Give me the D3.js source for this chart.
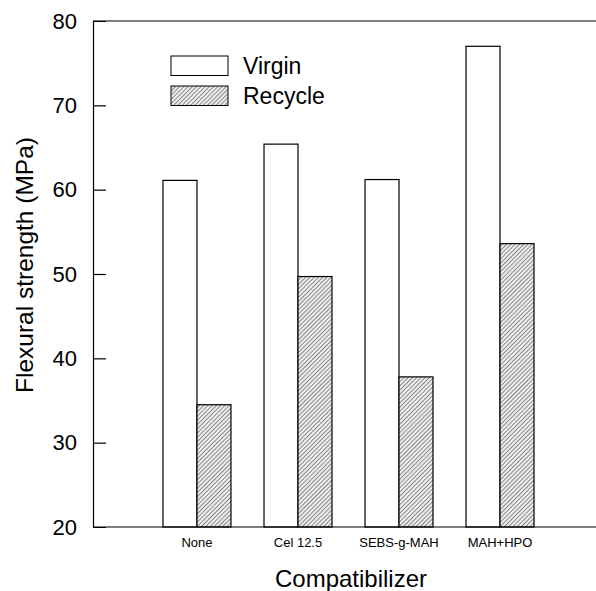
<!DOCTYPE html>
<html>
<head>
<meta charset="utf-8">
<script src="https://cdn.jsdelivr.net/npm/d3@7"></script>
<style>
  body { margin: 0; background: #fff; }
  svg { font-family: "Liberation Sans", Arial, sans-serif; }
</style>
</head>
<body>
<svg id="chart" width="596" height="591"></svg>
<script>
// data
var categories = ["None", "Cel 12.5", "SEBS-g-MAH", "MAH+HPO"];
var series = ["Virgin", "Recycle"];
var virgin = [61.1, 65.4, 61.2, 77.0];
var recycle = [34.5, 49.7, 37.8, 53.6];
var yTicks = [20, 30, 40, 50, 60, 70, 80];

var svg = d3.select("#chart");
var mLeft = 93, mTop = 21, mRight = 596, mBottom = 527;

// hatch for the recycle bars
var defs = svg.append("defs");
var pat = defs.append("pattern")
  .attr("id", "hatch")
  .attr("patternUnits", "userSpaceOnUse")
  .attr("width", 3).attr("height", 3)
  .attr("patternTransform", "rotate(45)");
pat.append("rect").attr("width", 3).attr("height", 3).attr("fill", "#eee");
pat.append("line")
  .attr("x1", 0).attr("y1", 0).attr("x2", 0).attr("y2", 3)
  .attr("stroke", "#444").attr("stroke-width", 1.2);

var y = d3.scaleLinear().domain([20, 80]).range([mBottom, mTop]);
var x = d3.scaleBand().domain(categories).range([94, 603])
  .paddingInner(0.327).paddingOuter(0.683);
var xs = d3.scaleBand().domain(series).range([0, x.bandwidth()]);

var data = categories.map((c, i) => ({cat: c, vals: [virgin[i], recycle[i]]}));

var g = svg.append("g");
g.selectAll(".grp")
  .data(data)
  .enter()
  .append("g")
  .attr("transform", d => "translate(" + x(d.cat) + ",0)")
  .selectAll("rect")
  .data(d => d.vals.map((v, j) => ({s: series[j], v: v})))
  .enter()
  .append("rect")
  .attr("x", d => xs(d.s))
  .attr("y", d => y(d.v))
  .attr("width", xs.bandwidth())
  .attr("height", d => y(20) - y(d.v))
  .attr("fill", d => d.s == "Virgin" ? "#fff" : "url(#hatch)")
  .attr("stroke", "#000")
  .attr("stroke-width", 1.2);

// frame
svg.append("line").attr("x1", mLeft).attr("x2", mRight).attr("y1", mTop).attr("y2", mTop)
  .attr("stroke", "#000").attr("stroke-width", 1.2);
svg.append("line").attr("x1", mLeft).attr("x2", mRight).attr("y1", mBottom).attr("y2", mBottom)
  .attr("stroke", "#000").attr("stroke-width", 1.2);

// y axis, ticks inside
var yAxis = d3.axisLeft(y).tickValues(yTicks).tickSize(-13).tickPadding(16);
var ya = svg.append("g").attr("transform", "translate(" + mLeft + ",0)").call(yAxis);
ya.select(".domain").attr("stroke-width", 1.2);
ya.selectAll(".tick line").attr("stroke-width", 1.2)
  .filter(d => d == 20 || d == 80).remove();
ya.selectAll(".tick text").attr("font-size", 22).attr("fill", "#000")
  .attr("font-family", "Liberation Sans, Arial, sans-serif");

// category labels
var xAxis = d3.axisBottom(x).tickSize(0).tickPadding(11);
var xa = svg.append("g").attr("transform", "translate(0," + mBottom + ")").call(xAxis);
xa.select(".domain").remove();
xa.selectAll(".tick text").attr("font-size", 13).attr("fill", "#000")
  .attr("font-family", "Liberation Sans, Arial, sans-serif");

// axis titles
svg.append("text")
  .attr("x", 351).attr("y", 587)
  .attr("text-anchor", "middle")
  .attr("font-size", 24)
  .text("Compatibilizer");

svg.append("text")
  .attr("transform", "translate(33,265) rotate(-90)")
  .attr("text-anchor", "middle")
  .attr("font-size", 24.5)
  .text("Flexural strength (MPa)");

// legend
var legend = svg.append("g").attr("transform", "translate(171,56)");
series.forEach((s, i) => {
  var row = legend.append("g").attr("transform", "translate(0," + (i * 30) + ")");
  row.append("rect")
    .attr("width", 57).attr("height", 19.5)
    .attr("fill", s == "Virgin" ? "#fff" : "url(#hatch)")
    .attr("stroke", "#000").attr("stroke-width", 1);
  row.append("text")
    .attr("x", 72).attr("y", 18)
    .attr("font-size", 23)
    .text(s);
});
</script>
</body>
</html>
